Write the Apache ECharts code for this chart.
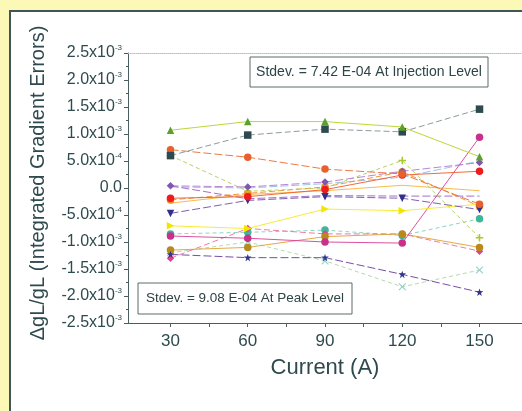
<!DOCTYPE html>
<html>
<head>
<meta charset="utf-8">
<script src="https://cdn.jsdelivr.net/npm/echarts@6/dist/echarts.min.js"></script>
<style>
html,body{margin:0;padding:0;background:#fcf9b6;overflow:hidden;}
#panel{position:absolute;left:9px;top:10px;width:560px;height:460px;background:#ffffff;border:2px solid #3e5656;}
#chart{position:absolute;left:0;top:0;width:522px;height:411px;}
</style>
</head>
<body>
<div id="panel"></div>
<div id="chart"></div>
<script>
// Currents (A)
const currents = [30, 60, 90, 120, 150];
const xTickLabels = [30, 60, 90, 120, 150];
const xTicks = [30, 45, 60, 75, 90, 105, 120, 135, 150];

// Integrated gradient errors (dgL/gL), one array per magnet
const sGreenTri   = [1.07e-3, 1.23e-3, 1.23e-3, 1.13e-3, 0.58e-3];
const sDarkSquare = [0.60e-3, 0.98e-3, 1.09e-3, 1.04e-3, 1.46e-3];
const sOrangeCirc = [0.71e-3, 0.57e-3, 0.35e-3, 0.26e-3, -0.30e-3];
const sRedCirc    = [-0.19e-3, -0.16e-3, -0.03e-3, 0.24e-3, 0.31e-3];
const sPurpleDia  = [0.04e-3, 0.02e-3, 0.11e-3, 0.31e-3, 0.47e-3];
const sNavyDown   = [-0.47e-3, -0.23e-3, -0.16e-3, -0.19e-3, -0.40e-3];
const sYellowRight= [-0.70e-3, -0.75e-3, -0.39e-3, -0.42e-3, -0.30e-3];
const sLimePlus   = [0.60e-3, -0.06e-3, 0.00e-3, 0.51e-3, -0.92e-3];
const sMagentaCirc= [-0.89e-3, -0.93e-3, -1.00e-3, -1.02e-3, 0.94e-3];
const sOliveCirc  = [-1.15e-3, -1.10e-3, -0.90e-3, -0.85e-3, -1.10e-3];
const sNavyStar   = [-1.23e-3, -1.29e-3, -1.29e-3, -1.60e-3, -1.93e-3];
const sPinkDia    = [-1.30e-3, -0.75e-3, -0.85e-3, -0.85e-3, -1.17e-3];
const sCyanCross  = [-1.20e-3, -1.00e-3, -1.35e-3, -1.83e-3, -1.52e-3];
const sTealCirc   = [-0.85e-3, -0.82e-3, -0.78e-3, -0.88e-3, -0.57e-3];
const sLightOrange= [-0.28e-3, -0.12e-3, -0.05e-3, 0.05e-3, -0.05e-3];
const sViolet     = [0.04e-3, -0.20e-3, -0.14e-3, -0.15e-3, -0.15e-3];
const sOrange2    = [-0.22e-3, -0.10e-3, 0.02e-3, 0.30e-3, -0.34e-3];
const sLightBlue  = [0.02e-3, 0.00e-3, 0.08e-3, 0.20e-3, 0.50e-3];

const annotation1 = 'Stdev. = 7.42 E-04 At Injection Level';
const annotation2 = 'Stdev. = 9.08 E-04 At Peak Level';

const plusPath = 'path://M4,0H6V4H10V6H6V10H4V6H0V4H4Z';
const crossPath = 'path://M1,0L5,4L9,0L10,1L6,5L10,9L9,10L5,6L1,10L0,9L4,5L0,1Z';
const starPath = 'path://M5,0L6.2,3.4L10,3.6L7,6L8.1,10L5,7.6L1.9,10L3,6L0,3.6L3.8,3.4Z';

const specs = [
  {d: sLightBlue,   c: '#8fbbe6', lc: '#8fbbe6', sym: 'none', lt: [8,3]},
  {d: sLightOrange, c: '#f7b23a', lc: '#f7b23a', sym: 'none', lt: 'solid'},
  {d: sViolet,      c: '#8a3fb0', lc: '#9b5fc8', sym: 'none', lt: [8,3]},
  {d: sOrange2,     c: '#f08a24', lc: '#f08a24', sym: 'circle', lt: [6,3]},
  {d: sTealCirc,    c: '#3fb59a', lc: '#7fd0b8', sym: 'circle', lt: [4,3]},
  {d: sCyanCross,   c: '#8fd0cc', lc: '#a8d8a0', sym: crossPath, lt: [4,3]},
  {d: sPinkDia,     c: '#e2408a', lc: '#ee6aa0', sym: 'diamond', lt: [6,3]},
  {d: sOliveCirc,   c: '#b88a1c', lc: '#e0a030', sym: 'circle', lt: 'solid'},
  {d: sMagentaCirc, c: '#c8308a', lc: '#d63f95', sym: 'circle', lt: 'solid'},
  {d: sNavyStar,    c: '#353590', lc: '#6a3aa0', sym: starPath, lt: [8,3]},
  {d: sLimePlus,    c: '#a8c830', lc: '#b0cc50', sym: plusPath, lt: [4,3]},
  {d: sYellowRight, c: '#f2e600', lc: '#f5ea20', sym: 'triangle', rot: -90, lt: 'solid'},
  {d: sNavyDown,    c: '#30308a', lc: '#7050a8', sym: 'triangle', rot: 180, lt: [8,3]},
  {d: sPurpleDia,   c: '#7e58b0', lc: '#b07ad0', sym: 'diamond', lt: [8,3]},
  {d: sRedCirc,     c: '#ee1c1c', lc: '#f05a2a', sym: 'circle', lt: 'solid'},
  {d: sOrangeCirc,  c: '#e8602c', lc: '#ec6a30', sym: 'circle', lt: [8,3]},
  {d: sDarkSquare,  c: '#2f4a4f', lc: '#7f9096', sym: 'rect', lt: [6,3]},
  {d: sGreenTri,    c: '#5aa02c', lc: '#b8d020', sym: 'triangle', lt: 'solid'}
];

const series = specs.map(s => ({
  type: 'line',
  data: s.d.map((v, i) => [currents[i], v]),
  symbol: s.sym,
  symbolSize: 7.5,
  symbolRotate: s.rot || 0,
  showSymbol: s.sym !== 'none',
  itemStyle: {color: s.c, borderWidth: 0},
  lineStyle: {color: s.lc, width: 1, type: s.lt, opacity: 0.9},
  emphasis: {disabled: true},
  silent: true,
  animation: false
}));

const txtColor = '#2f4a4e';
function yFmt(v) {
  const k = Math.round(v / 0.0005);
  if (k === 0) return '{a|0.0}';
  const sign = k < 0 ? '-' : '';
  const a = Math.abs(k);
  if (a === 1) return '{a|' + sign + '5.0x10}{s|-4}';
  return '{a|' + sign + (a * 0.5).toFixed(1) + 'x10}{s|-3}';
}

const chart = echarts.init(document.getElementById('chart'), null, {renderer: 'canvas'});
chart.setOption({
  backgroundColor: 'transparent',
  animation: false,
  grid: {left: 128, top: 53, width: 404, height: 270, containLabel: false},
  xAxis: [{
    type: 'value', min: 13.5, max: 166.5,
    name: 'Current (A)', nameLocation: 'middle', nameGap: 34,
    nameTextStyle: {fontFamily: 'Liberation Sans, Arial', fontSize: 22, color: txtColor},
    axisLine: {show: true, onZero: false, lineStyle: {color: '#4a5e60', width: 1}},
    axisTick: {show: true, inside: false, length: 4, customValues: xTicks, lineStyle: {color: '#4a5e60'}},
    axisLabel: {customValues: xTickLabels, margin: 10, fontFamily: 'Liberation Sans, Arial', fontSize: 17, color: txtColor},
    splitLine: {show: false}
  }, {
    type: 'value', position: 'top', min: 13.5, max: 166.5,
    axisLine: {show: true, onZero: false, lineStyle: {color: '#b8c0c0', width: 1, type: 'dotted'}},
    axisTick: {show: false}, axisLabel: {show: false}, splitLine: {show: false}
  }],
  yAxis: {
    type: 'value', min: -0.0025, max: 0.0025, interval: 0.0005,
    name: 'ΔgL/gL (Integrated Gradient Errors)', nameLocation: 'middle', nameRotate: 90, nameGap: 80,
    nameTextStyle: {fontFamily: 'Liberation Sans, Arial', fontSize: 20, color: txtColor, padding: [0, 0, 0, 10]},
    axisLine: {show: true, onZero: false, lineStyle: {color: '#4a5e60', width: 1}},
    axisTick: {show: true, inside: false, length: 4, lineStyle: {color: '#4a5e60'}},
    minorTick: {show: true, splitNumber: 2, length: 2, lineStyle: {color: '#4a5e60'}},
    axisLabel: {
      margin: 6, formatter: yFmt,
      rich: {
        a: {fontFamily: 'Liberation Sans, Arial', fontSize: 16, color: txtColor},
        s: {fontFamily: 'Liberation Sans, Arial', fontSize: 8, color: txtColor, verticalAlign: 'top', padding: [0, 0, 10, 0]}
      }
    },
    splitLine: {show: false}
  },
  graphic: [
    {type: 'rect', shape: {x: 250, y: 57, width: 238, height: 30}, style: {fill: '#ffffff', stroke: '#5a6a6a', lineWidth: 1}, z: 100},
    {type: 'text', x: 369, y: 72, style: {text: annotation1, fontFamily: 'Liberation Sans, Arial', fontSize: 14, fill: '#2f4446', align: 'center', verticalAlign: 'middle'}, z: 101},
    {type: 'rect', shape: {x: 138, y: 283, width: 214, height: 31}, style: {fill: '#ffffff', stroke: '#5a6a6a', lineWidth: 1}, z: 100},
    {type: 'text', x: 245, y: 298, style: {text: annotation2, fontFamily: 'Liberation Sans, Arial', fontSize: 13.5, fill: '#2f4446', align: 'center', verticalAlign: 'middle'}, z: 101}
  ],
  series: series
});
</script>
</body>
</html>
